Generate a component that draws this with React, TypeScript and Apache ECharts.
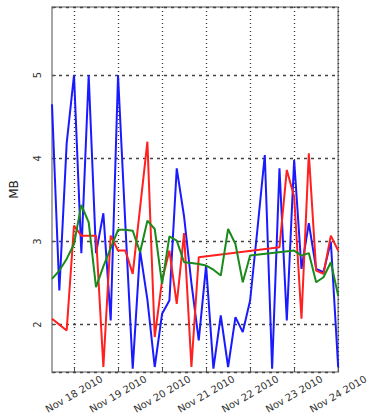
import React, { useEffect, useRef } from "react";
import * as echarts from "echarts";

const timeLabels = [
  "2010-11-17 12:00", "2010-11-17 16:00", "2010-11-17 20:00",
  "2010-11-18 00:00", "2010-11-18 04:00", "2010-11-18 08:00", "2010-11-18 12:00", "2010-11-18 16:00", "2010-11-18 20:00",
  "2010-11-19 00:00", "2010-11-19 04:00", "2010-11-19 08:00", "2010-11-19 12:00", "2010-11-19 16:00", "2010-11-19 20:00",
  "2010-11-20 00:00", "2010-11-20 04:00", "2010-11-20 08:00", "2010-11-20 12:00", "2010-11-20 16:00", "2010-11-20 20:00",
  "2010-11-21 00:00", "2010-11-21 04:00", "2010-11-21 08:00", "2010-11-21 12:00", "2010-11-21 16:00", "2010-11-21 20:00",
  "2010-11-22 00:00", "2010-11-22 04:00", "2010-11-22 08:00", "2010-11-22 12:00", "2010-11-22 16:00", "2010-11-22 20:00",
  "2010-11-23 00:00", "2010-11-23 04:00", "2010-11-23 08:00", "2010-11-23 12:00", "2010-11-23 16:00", "2010-11-23 20:00",
  "2010-11-24 00:00",
];

const dayTicks = [
  "2010-11-18 00:00", "2010-11-19 00:00", "2010-11-20 00:00", "2010-11-21 00:00",
  "2010-11-22 00:00", "2010-11-23 00:00", "2010-11-24 00:00",
];

const yTicks = [2, 3, 4, 5];
const yMin = 1.43;
const yMax = 5.82;
const xMinLabel = "2010-11-17 12:00";
const xMaxLabel = "2010-11-24 00:00";

const blueValues = [
  4.65, 2.41, 4.18, 5.0, 2.86, 5.0, 2.86, 3.34, 2.05, 5.0, 3.2, 1.47, 2.89, 2.3, 1.49,
  2.13, 2.29, 3.88, 3.3, 2.5, 1.81, 2.71, 1.47, 2.11, 1.49, 2.09, 1.91, 2.29, 3.15, 4.04,
  1.47, 3.88, 2.05, 3.98, 2.67, 3.22, 2.67, 2.63, 3.0, 1.49,
];

const redValues = [
  2.07, 2.0, 1.93, 3.19, 3.07, 3.07, 3.07, 1.49, 3.07, 2.89, 2.89, 2.61, 3.4, 4.2, 1.85,
  2.53, 2.89, 2.25, 3.1, 1.49, 2.81,
  null, null, null, null, null, null, null, null, null, null,
  2.93, 3.86, 3.54, 2.07, 4.06, 2.65, 2.61, 3.07, 2.89,
];

const greenValues = [
  2.55, 2.65, 2.79, 2.97, 3.44, 3.23, 2.45, 2.7, 2.92, 3.14, 3.14, 3.13, 2.87, 3.25, 3.15,
  2.49, 3.06, 3.01, 2.75, 2.74, 2.73, 2.71, 2.66, 2.59, 3.15, 2.97, 2.51, 2.83,
  null, null, null, null, null,
  2.89, 2.83, 2.86, 2.51, 2.57, 2.75, 2.35,
];

const monthNames = ["Jan", "Feb", "Mar", "Apr", "May", "Jun", "Jul", "Aug", "Sep", "Oct", "Nov", "Dec"];

function parseTime(s: string): number {
  const [d, t] = s.split(" ");
  const [y, m, dd] = d.split("-").map(Number);
  const [hh, mm] = (t || "00:00").split(":").map(Number);
  return new Date(y, m - 1, dd, hh, mm).getTime();
}

function toSeries(values: (number | null)[]) {
  return timeLabels.map((t, i) => [parseTime(t), values[i]]);
}

export default function App() {
  const ref = useRef<HTMLDivElement>(null);

  useEffect(() => {
    if (!ref.current) return;
    const chart = echarts.init(ref.current, null, { renderer: "svg" });
    const tickValues = dayTicks.map(parseTime);
    const font = "DejaVu Sans";
    const xMin = parseTime(xMinLabel);

    chart.setOption({
      animation: false,
      backgroundColor: "#ffffff",
      grid: {
        left: 52,
        right: 18,
        top: 7,
        bottom: 46,
        show: true,
        borderColor: "#909090",
        borderWidth: 1.6,
        containLabel: false,
      },
      xAxis: {
        type: "value",
        min: xMin,
        max: parseTime(xMaxLabel),
        axisLine: { show: false },
        axisTick: {
          show: true,
          inside: true,
          length: 4,
          customValues: tickValues,
          lineStyle: { color: "#555" },
        },
        axisLabel: {
          customValues: tickValues,
          rotate: 30,
          align: "center",
          verticalAlign: "middle",
          margin: 22,
          fontSize: 10,
          fontFamily: font,
          color: "#333",
          hideOverlap: false,
          formatter: (v: number) => {
            const d = new Date(v);
            return `${monthNames[d.getMonth()]} ${d.getDate()} ${d.getFullYear()}`;
          },
        },
        splitLine: {
          show: true,
          lineStyle: { type: [1, 3], color: "#333", width: 1.3 },
        },
      },
      yAxis: {
        type: "value",
        min: yMin,
        max: yMax,
        splitNumber: 4,
        name: "MB",
        nameLocation: "middle",
        nameGap: 32,
        nameTextStyle: { fontSize: 12, fontFamily: font, color: "#222" },
        axisLine: { show: false },
        axisTick: {
          show: true,
          inside: true,
          length: 4,
          lineStyle: { color: "#555" },
        },
        axisLabel: { show: false },
        splitLine: {
          show: true,
          lineStyle: { type: [3, 4], color: "#444", width: 1.3 },
        },
      },
      series: [
        {
          type: "line",
          data: toSeries(blueValues),
          showSymbol: false,
          symbol: "none",
          connectNulls: true,
          lineStyle: { color: "#1a1aff", width: 2 },
          itemStyle: { color: "#1a1aff" },
        },
        {
          type: "line",
          data: toSeries(redValues),
          showSymbol: false,
          symbol: "none",
          connectNulls: true,
          lineStyle: { color: "#ff2020", width: 2 },
          itemStyle: { color: "#ff2020" },
        },
        {
          type: "line",
          data: toSeries(greenValues),
          showSymbol: false,
          symbol: "none",
          connectNulls: true,
          lineStyle: { color: "#1a8a1a", width: 2 },
          itemStyle: { color: "#1a8a1a" },
        },
      ],
    });

    // Rotated y tick labels, positioned through the chart's own scale.
    const labelGraphics = yTicks.map((v) => {
      const p = chart.convertToPixel({ gridIndex: 0 }, [xMin, v]) as number[];
      return {
        type: "group",
        x: p[0] - 15,
        y: p[1],
        rotation: 1.5707,
        children: [
          {
            type: "text",
            x: 0,
            y: 0,
            style: {
              text: String(v),
              fontSize: 10,
              fontFamily: font,
              fill: "#333",
              align: "center",
              verticalAlign: "middle",
            },
          },
        ],
      };
    });
    chart.setOption({ graphic: { elements: labelGraphics } });

    return () => chart.dispose();
  }, []);

  return (
    <div
      ref={ref}
      style={{ position: "fixed", left: 0, top: 0, width: 371, height: 418, background: "#fff" }}
    />
  );
}
